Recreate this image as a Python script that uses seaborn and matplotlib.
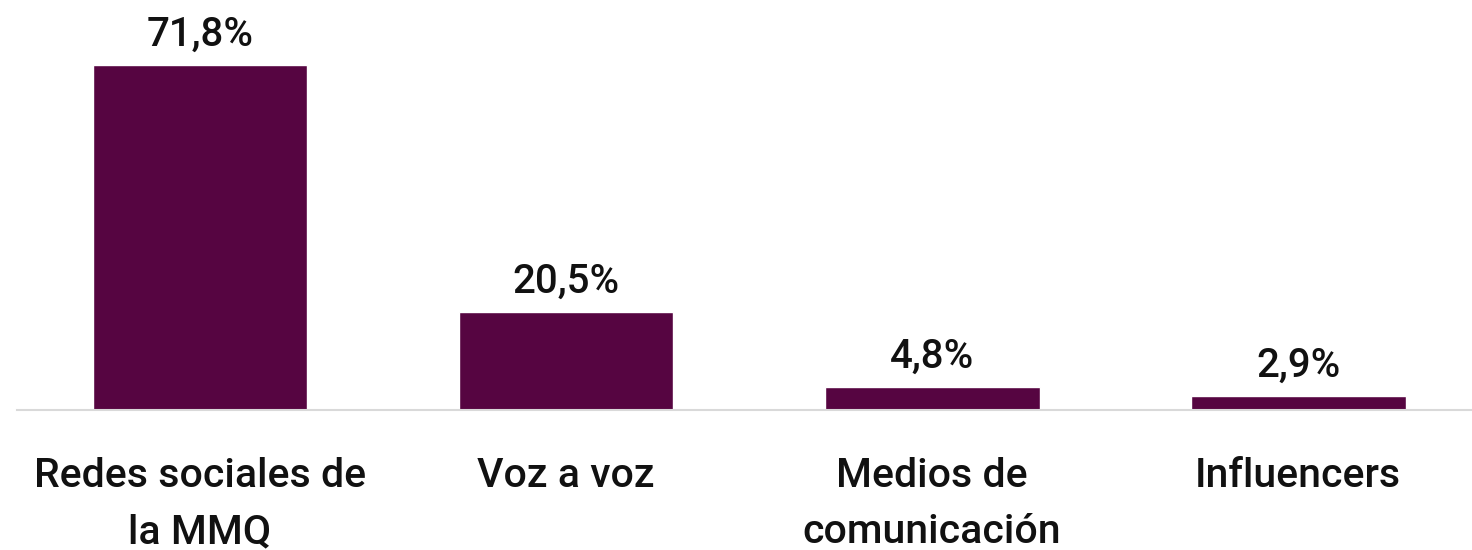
import matplotlib
matplotlib.use("Agg")
import matplotlib.pyplot as plt
import seaborn as sns
import pandas as pd

categories = ["Redes sociales de\nla MMQ", "Voz a voz", "Medios de\ncomunicación", "Influencers"]
values = [71.8, 20.5, 4.8, 2.9]
value_labels = ["71,8%", "20,5%", "4,8%", "2,9%"]

bar_color = "#560541"

sns.set_style("white")
plt.rcParams["font.family"] = ["Roboto", "DejaVu Sans"]

df = pd.DataFrame({"categoria": categories, "valor": values})

fig = plt.figure(figsize=(14.72, 5.5), dpi=100)
ax = fig.add_axes([17 / 1472, 140 / 550, 1 - 17 / 1472, 410 / 550])

sns.barplot(data=df, x="categoria", y="valor", color=bar_color,
            width=0.587, saturation=1, ax=ax)

# etiquetas de valor encima de cada barra
for i, (v, lab) in enumerate(zip(values, value_labels)):
    ax.text(i, v + 4.0, lab, ha="center", va="baseline", fontsize=29,
            fontweight="medium", color="#111111")

ax.set_xlim(-0.5, 3.475)
ax.set_ylim(0, 85.4)
ax.set_xlabel("")
ax.set_ylabel("")
ax.set_yticks([])
ax.tick_params(axis="x", length=0, pad=34, labelsize=29.5)
for t in ax.get_xticklabels():
    t.set_fontweight("medium")
    t.set_color("#111111")
    t.set_linespacing(1.6)

for s in ["top", "right", "left"]:
    ax.spines[s].set_visible(False)
ax.spines["bottom"].set_color("#d9d9d9")
ax.spines["bottom"].set_linewidth(1.5)

fig.savefig("out.png", dpi=100, facecolor="white")
